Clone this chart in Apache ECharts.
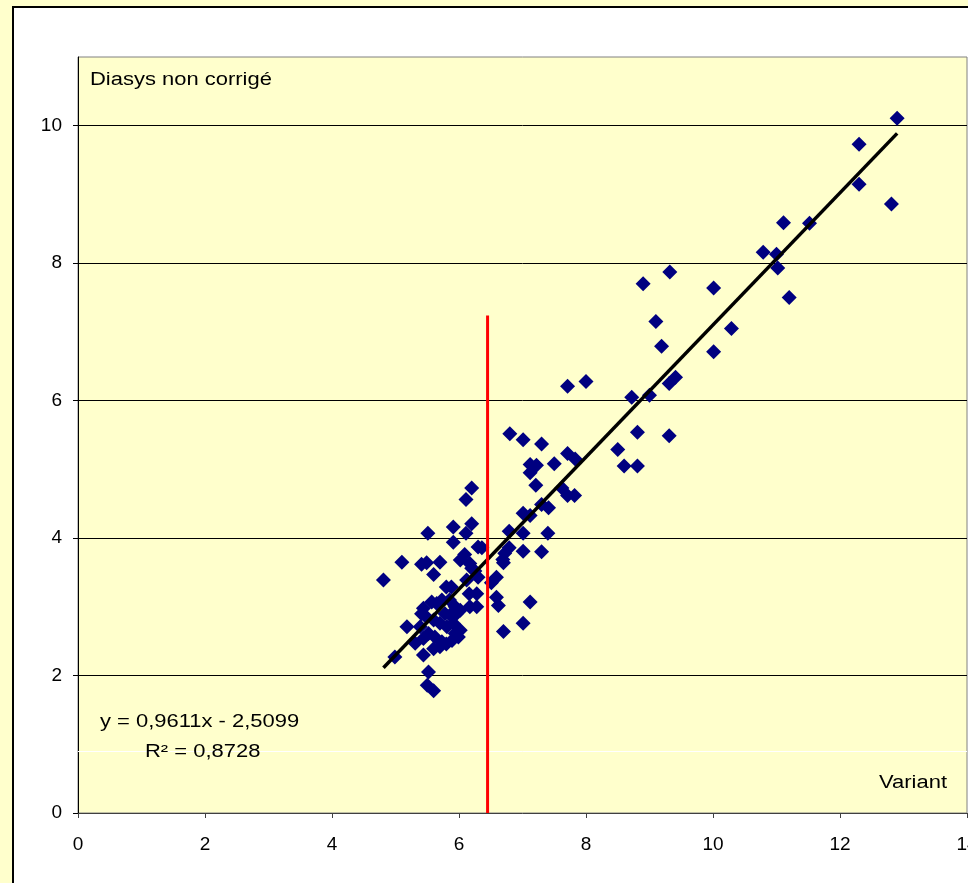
<!DOCTYPE html>
<html>
<head>
<meta charset="utf-8">
<script src="https://cdn.jsdelivr.net/npm/echarts@6/dist/echarts.min.js"></script>
<style>
  html, body { margin: 0; padding: 0; background: #ffffcc; }
  #chart { width: 968px; height: 883px; }
</style>
</head>
<body>
<div id="chart"></div>
<script>
    // Variant (x) vs Diasys non corrigé (y)
    const variant = [
        12.90, 12.30, 12.30, 12.81, 11.11, 11.52, 10.79, 11.00, 11.02, 11.20,
        9.32, 8.90, 10.01, 9.10, 10.29, 9.19, 10.01, 8.00, 9.41, 9.31,
        8.72, 9.00, 8.81, 9.31, 8.50, 8.60, 8.81, 7.71,
        6.80, 7.01, 7.30, 7.71, 7.83, 7.50, 7.12, 7.22, 7.12, 7.21,
        7.62, 7.71, 7.82, 7.30, 7.41, 7.01, 7.12, 6.79, 7.01, 7.40,
        6.79, 6.72, 7.01, 7.30, 6.36, 6.69,
        6.20, 6.11, 5.91, 6.20, 6.11, 5.51, 5.91, 6.30, 5.10, 5.41,
        5.49, 5.70, 5.60, 6.09, 6.02, 6.17, 6.20, 6.25, 6.30, 6.70,
        6.59, 6.51, 4.81, 5.80, 5.88, 6.12, 6.16, 7.12,
        6.28, 5.57, 5.65, 5.73, 5.85, 5.44, 5.94, 6.02, 6.17, 6.28,
        6.59, 6.62, 5.78, 5.86, 5.96, 5.41, 5.49, 5.60, 5.70, 5.81,
        5.91, 6.02, 5.94, 5.18, 5.39, 7.01, 6.70, 5.52, 5.62, 5.73,
        5.80, 5.89, 5.99, 5.31, 5.44, 5.60, 5.70, 4.99, 5.44, 5.52,
        5.50, 5.60
    ];
    const diasys = [
        10.11, 9.73, 9.15, 8.86, 8.59, 8.58, 8.16, 8.13, 7.93, 7.50,
        7.87, 7.70, 7.64, 7.15, 7.05, 6.79, 6.71, 6.28, 6.34, 6.25,
        6.05, 6.08, 5.54, 5.49, 5.29, 5.05, 5.05, 6.21,
        5.52, 5.43, 5.37, 5.23, 5.15, 5.08, 5.07, 5.06, 4.95, 4.77,
        4.73, 4.62, 4.62, 4.49, 4.44, 4.36, 4.33, 4.10, 4.07, 4.07,
        3.86, 3.78, 3.81, 3.80, 3.86, 3.69,
        4.73, 4.56, 4.16, 4.21, 4.07, 4.07, 3.94, 3.87, 3.65, 3.62,
        3.64, 3.65, 3.47, 3.76, 3.68, 3.63, 3.56, 3.52, 3.43, 3.64,
        3.43, 3.35, 3.39, 3.29, 3.29, 3.39, 3.19, 3.07,
        3.19, 3.07, 3.05, 3.10, 3.10, 2.98, 3.00, 2.95, 3.00, 3.00,
        3.14, 3.02, 2.90, 2.88, 2.90, 2.90, 2.85, 2.81, 2.76, 2.71,
        2.76, 2.66, 2.61, 2.71, 2.71, 2.76, 2.64, 2.61, 2.56, 2.49,
        2.46, 2.51, 2.56, 2.47, 2.54, 2.39, 2.42, 2.27, 2.30, 2.05,
        1.86, 1.78
    ];

    // linear trend shown on the chart: y = 0,9611x - 2,5099
    const trendSlope = 0.9611;
    const trendIntercept = -2.5099;

    // red vertical marker
    const cutoffX = 6.45;
    const cutoffTop = 7.24;

    const xTicks = [0, 2, 4, 6, 8, 10, 12, 14];
    const yTicks = [0, 2, 4, 6, 8, 10];

    const points = variant.map((x, i) => [x, diasys[i]]);
    const xMin = Math.min(...variant);
    const xMax = Math.max(...variant);
    const trend = [xMin, xMax].map(x => [x, trendSlope * x + trendIntercept]);

    const FONT = '"Liberation Sans", Arial, sans-serif';
    const STRETCH = 1.22;

    function label(text, x, y, align) {
        return {
            type: 'text',
            z: 100,
            x: x, y: y,
            scaleX: STRETCH,
            style: {
                text: text,
                font: '18px ' + FONT,
                fill: '#000',
                align: align || 'left',
                verticalAlign: 'middle'
            }
        };
    }

    const chart = echarts.init(document.getElementById('chart'));
    chart.setOption({
        backgroundColor: '#ffffcc',
        animation: false,
        graphic: [
            {
                type: 'rect',
                z: -100,
                shape: { x: 13, y: 7, width: 1000, height: 1000 },
                style: { fill: '#ffffff', stroke: '#000000', lineWidth: 2 }
            },
            label('Diasys non corrigé', 90, 80),
            label('Variant', 947, 783, 'right'),
            label('y = 0,9611x - 2,5099', 100, 722),
            label('R² = 0,8728', 145, 752)
        ],
        grid: {
            left: 78,
            top: 57,
            right: 1,
            bottom: 70,
            outerBoundsMode: 'none',
            containLabel: false,
            show: true,
            backgroundColor: '#ffffcc',
            borderColor: '#808080',
            borderWidth: 1
        },
        xAxis: {
            type: 'value',
            min: xTicks[0],
            max: xTicks[xTicks.length - 1],
            interval: 2,
            axisLine: { show: true, onZero: false, lineStyle: { color: '#404040', width: 1 } },
            axisTick: { show: true, inside: false, length: 5, lineStyle: { color: '#404040' } },
            axisLabel: { color: '#000', fontSize: 19, fontFamily: FONT, margin: 22, hideOverlap: false },
            splitLine: { show: false }
        },
        yAxis: {
            type: 'value',
            min: yTicks[0],
            max: 11,
            interval: 2,
            axisLine: { show: true, onZero: false, lineStyle: { color: '#000', width: 1 } },
            axisTick: { show: true, inside: false, length: 5, lineStyle: { color: '#000' } },
            axisLabel: {
                color: '#000', fontSize: 19, fontFamily: FONT, margin: 16,
                showMaxLabel: false,
                formatter: v => (yTicks.indexOf(v) >= 0 ? String(v) : '')
            },
            splitLine: { show: true, showMinLine: false, showMaxLine: false, lineStyle: { color: '#000', width: 1 } }
        },
        series: [
            {
                name: 'pale',
                type: 'line',
                data: [],
                silent: true,
                markLine: {
                    silent: true,
                    symbol: 'none',
                    label: { show: false },
                    lineStyle: { color: '#ffffff', width: 1, type: 'solid' },
                    data: [{ yAxis: 0.9 }]
                }
            },
            {
                name: 'Diasys',
                type: 'scatter',
                symbol: 'diamond',
                symbolSize: 15,
                itemStyle: { color: '#000080', opacity: 1 },
                data: points,
                z: 3
            },
            {
                name: 'trend',
                type: 'line',
                data: trend,
                symbol: 'none',
                lineStyle: { color: '#000', width: 3.5 },
                z: 4
            },
            {
                name: 'cutoff',
                type: 'line',
                data: [[cutoffX, 0], [cutoffX, cutoffTop]],
                symbol: 'none',
                lineStyle: { color: '#ff0000', width: 3 },
                z: 5
            }
        ]
    });
</script>
</body>
</html>
